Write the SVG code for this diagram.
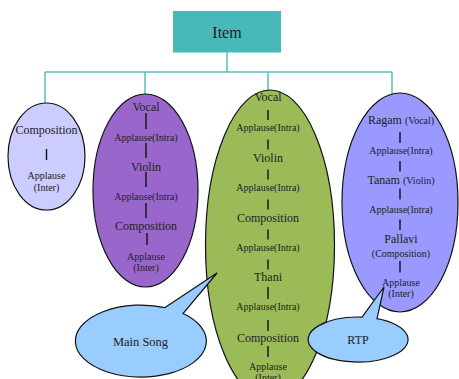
<svg xmlns="http://www.w3.org/2000/svg" width="459" height="379" viewBox="0 0 459 379">
<style>
text{font-family:"Liberation Serif","Times New Roman",serif;fill:#222;text-anchor:middle}
.big{font-size:12px}
.sm{font-size:10px}
.sep{stroke:#111;stroke-width:1.4}
.conn{stroke:#5BBDBD;stroke-width:1.5;fill:none}
.ell{stroke:#111;stroke-width:1.2}
</style>
<rect width="459" height="379" fill="#fff"/>
<g id="connectors">
<path class="conn" d="M227 52V72M45 72H392M45 72V103M145 72V94M268 72V91M392 72V95"/>
</g>
<g id="item">
<rect x="173" y="11" width="108" height="41.5" fill="#48B9B9"/>
<text x="227" y="37.5" style="font-size:16px">Item</text>
</g>
<g id="composition">
<ellipse class="ell" cx="46.5" cy="156.5" rx="38.5" ry="53.5" fill="#CCCCFF"/>
<text class="big" x="46.5" y="134">Composition</text>
<line class="sep" x1="46.5" y1="149" x2="46.5" y2="160"/>
<text class="sm" x="46.5" y="178.5">Applause</text>
<text class="sm" x="46.5" y="190.5">(Inter)</text>
</g>
<g id="vocal-violin">
<ellipse class="ell" cx="145.5" cy="190.5" rx="52.5" ry="96.5" fill="#9966CC"/>
<text class="big" x="146" y="111">Vocal</text>
<line class="sep" x1="146" y1="113" x2="146" y2="129"/>
<text class="sm" x="146" y="140.5">Applause(Intra)</text>
<line class="sep" x1="146" y1="143" x2="146" y2="158"/>
<text class="big" x="146" y="171">Violin</text>
<line class="sep" x1="146" y1="172" x2="146" y2="187"/>
<text class="sm" x="146" y="200">Applause(Intra)</text>
<line class="sep" x1="146" y1="203" x2="146" y2="218"/>
<text class="big" x="146" y="230">Composition</text>
<line class="sep" x1="147" y1="233" x2="147" y2="245"/>
<text class="sm" x="146" y="259.5">Applause</text>
<text class="sm" x="146" y="271">(Inter)</text>
</g>
<g id="main-song-item">
<ellipse class="ell" cx="270" cy="245" rx="64.5" ry="155" fill="#9BBB59"/>
<text class="big" x="268" y="101">Vocal</text>
<line class="sep" x1="268" y1="110" x2="268" y2="120"/>
<text class="sm" x="268" y="130.8">Applause(Intra)</text>
<line class="sep" x1="268" y1="139.5" x2="268" y2="149.5"/>
<text class="big" x="268" y="162">Violin</text>
<line class="sep" x1="268" y1="169.5" x2="268" y2="179.5"/>
<text class="sm" x="268" y="191">Applause(Intra)</text>
<line class="sep" x1="268" y1="199.5" x2="268" y2="209.5"/>
<text class="big" x="268" y="222">Composition</text>
<line class="sep" x1="268" y1="229.5" x2="268" y2="239.5"/>
<text class="sm" x="268" y="250.8">Applause(Intra)</text>
<line class="sep" x1="268" y1="259.5" x2="268" y2="269.5"/>
<text class="big" x="268" y="281">Thani</text>
<line class="sep" x1="268" y1="287" x2="268" y2="299"/>
<text class="sm" x="268" y="310">Applause(Intra)</text>
<line class="sep" x1="268" y1="320" x2="268" y2="331"/>
<text class="big" x="268" y="341.5">Composition</text>
<line class="sep" x1="268" y1="346" x2="268" y2="357"/>
<text class="sm" x="268" y="369.5">Applause</text>
<text class="sm" x="268" y="381">(Inter)</text>
</g>
<g id="rtp-item">
<ellipse class="ell" cx="400" cy="202.5" rx="58" ry="109.5" fill="#9999FF"/>
<text class="big" x="401" y="124">Ragam <tspan class="sm">(Vocal)</tspan></text>
<line class="sep" x1="400" y1="132" x2="400" y2="143"/>
<text class="sm" x="401" y="153.5">Applause(Intra)</text>
<line class="sep" x1="400" y1="161" x2="400" y2="171.5"/>
<text class="big" x="401" y="184">Tanam <tspan class="sm">(Violin)</tspan></text>
<line class="sep" x1="400" y1="188.5" x2="400" y2="199.5"/>
<text class="sm" x="401" y="212.8">Applause(Intra)</text>
<line class="sep" x1="400" y1="219.5" x2="400" y2="230"/>
<text class="big" x="401" y="243">Pallavi</text>
<text class="sm" x="401" y="257">(Composition)</text>
<line class="sep" x1="400" y1="261" x2="400" y2="272.5"/>
<text class="sm" x="401" y="285.8">Applause</text>
<text class="sm" x="401" y="296.8">(Inter)</text>
</g>
<g id="main-song-callout">
<path class="ell" d="M165 307.6L217 273L183 313.5A65.5 36 0 1 1 165 307.6Z" fill="#99CCFF"/>
<text x="140.5" y="345.5" style="font-size:12.5px">Main Song</text>
</g>
<g id="rtp-callout">
<path class="ell" d="M362 317.1L384 287L377 318.7A50 22.5 0 1 1 362 317.1Z" fill="#99CCFF"/>
<text class="big" x="358" y="343.5">RTP</text>
</g>
</svg>
